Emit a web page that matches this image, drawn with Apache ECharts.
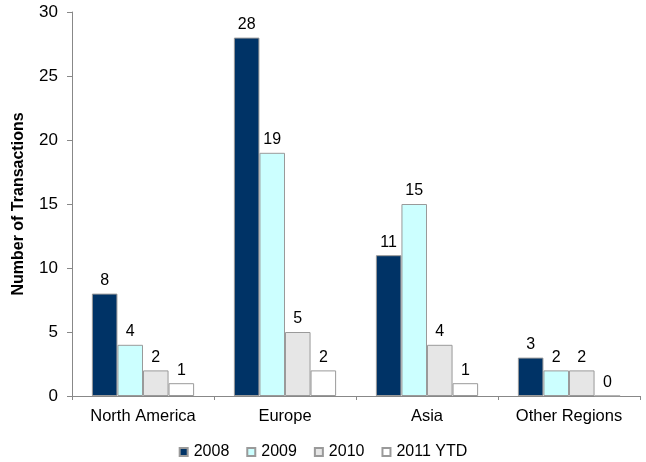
<!DOCTYPE html>
<html>
<head>
<meta charset="utf-8">
<script src="https://cdn.jsdelivr.net/npm/echarts@6/dist/echarts.min.js"></script>
<style>
  html, body { margin: 0; padding: 0; background: #fff; }
  #chart { width: 646px; height: 462px; }
</style>
</head>
<body>
<div id="chart"></div>
<script>
// Transactions by region and year
const regions = ['North America', 'Europe', 'Asia', 'Other Regions'];
const years = ['2008', '2009', '2010', '2011 YTD'];
const values2008 = [8, 28, 11, 3];
const values2009 = [4, 19, 15, 2];
const values2010 = [2, 5, 4, 2];
const values2011 = [1, 2, 1, 0];
const yTicks = { min: 0, max: 30, step: 5 };

const fills = ['#003366', '#CCFFFF', '#E6E6E6', '#FFFFFF'];
const seriesValues = [values2008, values2009, values2010, values2011];
const font = '"Liberation Sans", Arial, sans-serif';

const chart = echarts.init(document.getElementById('chart'), null, { renderer: 'canvas' });
chart.setOption({
  animation: false,
  textStyle: { fontFamily: font },
  grid: { left: 72, right: 6, top: 12, bottom: 66 },
  legend: {
    top: 439,
    left: 'center',
    itemWidth: 8,
    itemHeight: 8,
    itemGap: 17,
    icon: 'rect',
    textStyle: { fontSize: 16, color: '#000', fontFamily: font, padding: [0, 0, 0, 1] },
    data: years
  },
  xAxis: {
    type: 'category',
    data: regions,
    axisLine: { lineStyle: { color: '#888' } },
    axisTick: { show: true, length: 4, lineStyle: { color: '#888' } },
    axisLabel: { fontSize: 16.5, color: '#000', margin: 12, fontFamily: font }
  },
  yAxis: {
    type: 'value',
    min: yTicks.min,
    max: yTicks.max,
    interval: yTicks.step,
    name: 'Number of Transactions',
    nameLocation: 'middle',
    nameGap: 45,
    nameTextStyle: { fontSize: 16, fontWeight: 'bold', color: '#000', fontFamily: font },
    axisLine: { show: true, lineStyle: { color: '#888' } },
    axisTick: { show: true, length: 5, lineStyle: { color: '#888' } },
    axisLabel: { fontSize: 17, color: '#000', margin: 14, fontFamily: font },
    splitLine: { show: false }
  },
  series: years.map((name, i) => ({
    name: name,
    type: 'bar',
    data: seriesValues[i],
    barGap: '0%',
    barCategoryGap: '28%',
    itemStyle: { color: fills[i], borderColor: '#9A9A9A', borderWidth: 1 },
    label: {
      show: true,
      position: 'top',
      distance: 5,
      fontSize: 16,
      color: '#000',
      fontFamily: font
    }
  }))
});
</script>
</body>
</html>
